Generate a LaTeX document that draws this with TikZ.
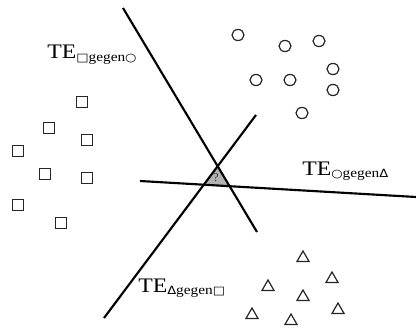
\documentclass[tikz,border=0pt]{standalone}
\usepackage{fontspec}
\usepackage{graphicx}
\setmainfont{Liberation Serif}
\newfontfamily\symfont{DejaVu Sans}
\usetikzlibrary{shapes.geometric}
\begin{document}
\begin{tikzpicture}[x=0.75pt,y=-0.75pt,
  sepline/.style={line width=1.6pt,black},
  sq/.style={draw=black!85,line width=0.9pt,rectangle,minimum size=8.3pt,inner sep=0pt},
  circ/.style={draw=black!85,line width=0.9pt,ellipse,minimum width=9pt,minimum height=8.3pt,inner sep=0pt},
  tri/.style={draw=black!85,line width=0.9pt,regular polygon,regular polygon sides=3,minimum size=10.5pt,inner sep=0pt},
  lab/.style={anchor=base west,inner sep=0pt,font=\fontsize{15.5}{17}\selectfont}
]
\useasboundingbox (0,0) rectangle (416,331);
% line end points
\coordinate (a1) at (123,8);   \coordinate (a2) at (257,232);
\coordinate (b1) at (104,318); \coordinate (b2) at (256,115);
\coordinate (c1) at (140,181); \coordinate (c2) at (416,197);
% gray central triangle
\fill[gray!60] (intersection of a1--a2 and b1--b2) -- (intersection of b1--b2 and c1--c2) -- (intersection of a1--a2 and c1--c2) -- cycle;
\draw[sepline] (a1) -- (a2);
\draw[sepline] (b1) -- (b2);
\draw[sepline] (c1) -- (c2);
\node[font=\fontsize{9}{10}\selectfont,text=black!80,inner sep=0pt] (q) at (216,178) {?};
% labels
\newcommand{\subtxt}[1]{\raisebox{-0.3ex}{\fontsize{10}{11}\selectfont #1}}
\newcommand{\wide}[1]{\scalebox{1.15}[1]{#1}}
\node[lab] (l1) at (47,59) {\wide{TE\subtxt{{\symfont\scalebox{0.85}{□}}gegen{\symfont\scalebox{0.85}{○}}}}};
\node[lab] (l2) at (302,175) {\wide{TE\subtxt{{\symfont\scalebox{0.85}{○}}gegen{\symfont\scalebox{0.85}{Δ}}}}};
\node[lab] (l3) at (138,292) {\wide{TE\subtxt{{\symfont\scalebox{0.85}{Δ}}gegen{\symfont\scalebox{0.85}{□}}}}};
% squares
\node[sq] (s1) at (82,102) {};
\node[sq] (s2) at (49,128) {};
\node[sq] (s3) at (87,140) {};
\node[sq] (s4) at (18,151) {};
\node[sq] (s5) at (45,174) {};
\node[sq] (s6) at (87,178) {};
\node[sq] (s7) at (18,205) {};
\node[sq] (s8) at (61,223) {};
% circles
\node[circ] (o1) at (238,35) {};
\node[circ] (o2) at (285,46) {};
\node[circ] (o3) at (319,41) {};
\node[circ] (o4) at (333,69) {};
\node[circ] (o5) at (256,80) {};
\node[circ] (o6) at (290,80) {};
\node[circ] (o7) at (333,90) {};
\node[circ] (o8) at (302,113) {};
% triangles
\node[tri] (t1) at (303,258) {};
\node[tri] (t2) at (268,287) {};
\node[tri] (t3) at (332,279) {};
\node[tri] (t4) at (303,297) {};
\node[tri] (t5) at (252,315) {};
\node[tri] (t6) at (338,310) {};
\node[tri] (t7) at (291,321) {};
\end{tikzpicture}
\end{document}
